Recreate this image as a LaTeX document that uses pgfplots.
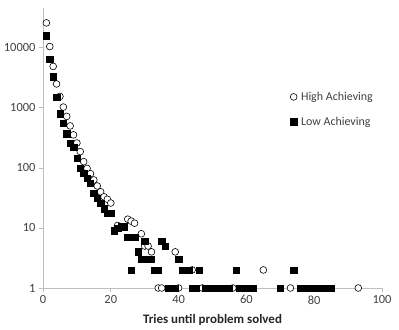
\documentclass[border=0pt]{standalone}
\usepackage{fontspec}
\setmainfont{Carlito}
\usepackage{pgfplots}
\usepackage{pgfplotstable}
\pgfplotsset{compat=1.18}
\definecolor{axgray}{HTML}{BFBFBF}
\definecolor{txtgray}{HTML}{404040}

\pgfplotstableread{
x y
1 26000
2 10500
3 4900
4 2500
5 1550
6 1030
7 720
8 500
9 355
10 260
11 187
12 127
13 98
14 80
15 63
16 50
17 40
18 33
19 30
20 26
22 11
25 14
26 13
27 12
29 8
30 5
31 5
32 4
34 1
35 1
39 4
40 1
44 2
47 1
56 1
65 2
73 1
93 1
}\high

\pgfplotstableread{
x y
1 16000
2 6500
3 3300
4 1500
5 800
6 560
7 370
8 260
9 220
10 145
11 100
12 81
13 68
14 55
15 38
16 31
17 26
18 21
19 17.5
20 17.5
21 9
22 10
23 10.5
24 10.5
25 7
26 2
27 7
28 4
29 3
30 6
31 3
32 3
33 2
34 2
35 6
36 5
37 1
38 1
39 1
40 3
41 2
42 2
43 2
44 1
45 1
46 2
48 1
49 1
50 1
51 1
52 1
53 1
54 1
55 1
57 2
58 1
59 1
60 1
61 1
62 1
70 1
74 2
76 1
77 1
78 1
79 1
80 1
82 1
83 1
84 1
85 1
}\low

\begin{document}
\begin{tikzpicture}
\begin{axis}[
  at={(0,0)}, anchor=south west,
  scale only axis, width=339bp, height=280bp,
  ymode=log, log basis y=10,
  xmin=0, xmax=100, ymin=1, ymax=46000,
  axis x line*=bottom, axis y line*=left,
  axis line style={axgray, line width=0.75pt, -},
  xtick={0,20,40,60,80,100},
  xticklabels={0,20,40,60,80,100},
  ytick={1,10,100,1000,10000},
  yticklabels={1,10,100,1000,10000},
  yminorticks=false,
  tick style={axgray, line width=0.75pt},
  tick align=outside, major tick length=4bp,
  ticklabel style={font=\fontsize{12.5}{14}\selectfont, text=txtgray},
  xlabel={\textbf{Tries until problem solved}},
  xlabel style={font=\fontsize{13}{15}\selectfont, text=black!85, yshift=-3bp},
  clip=false,
  legend style={draw=none, fill=none, at={(0.72,0.715)}, anchor=north west,
    font=\fontsize{12}{14}\selectfont, text=txtgray, row sep=11bp,
    legend cell align=left},
]
\addplot[only marks, mark=*, mark size=3.4bp, mark options={fill=white, draw=black, line width=0.6pt}] table[x=x,y=y] {\high};
\addlegendentry{\hspace{2bp}High Achieving}
\addplot[only marks, mark=square*, mark size=3.2bp, mark options={fill=black, draw=black}] table[x=x,y=y] {\low};
\addlegendentry{\hspace{2bp}Low Achieving}
\end{axis}
\pgfresetboundingbox
\path[use as bounding box] (-43bp,-42bp) rectangle (356bp,288bp);
\end{tikzpicture}
\end{document}
